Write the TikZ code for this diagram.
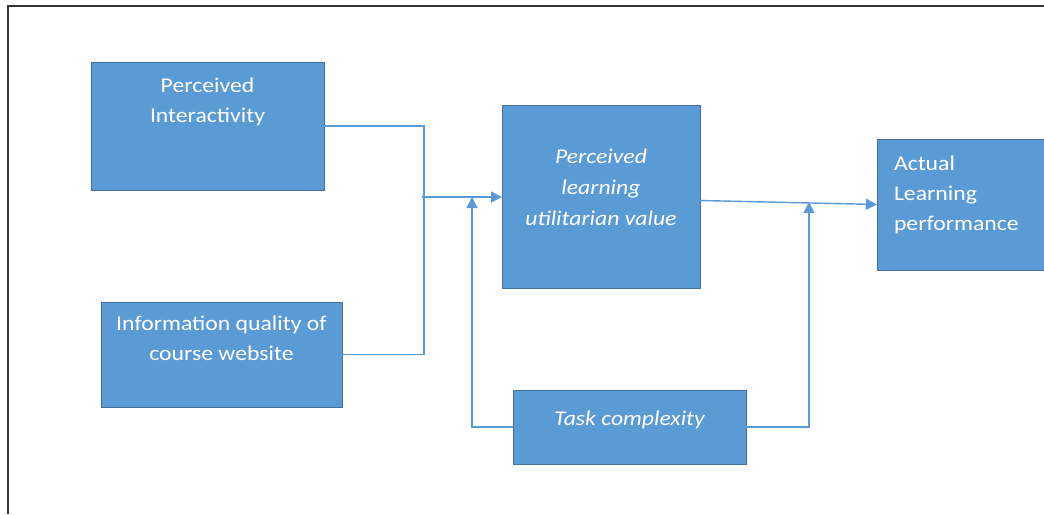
\documentclass[tikz,border=0pt]{standalone}
\usepackage{fontspec}
\setmainfont{Carlito}[FakeStretch=1.13]
\usetikzlibrary{arrows.meta}
\definecolor{boxfill}{HTML}{5B9BD5}
\definecolor{boxline}{HTML}{41719C}
\definecolor{conn}{HTML}{5B9BD5}
\definecolor{framec}{HTML}{333333}
\newcommand{\cbox}[4]{\parbox[t][#2][t]{#1}{\centering\rule{0pt}{#3}#4}}
\newcommand{\lbox}[5]{\parbox[t][#2][t]{#1}{\raggedright\leftskip=#4\rule{0pt}{#3}#5}}
\tikzset{
  blockbox/.style={draw=boxline, line width=1pt, fill=boxfill, inner sep=0pt, outer sep=0pt,
    anchor=north west, text=white, font=\fontsize{21}{30}\selectfont},
  link/.style={draw=conn, line width=1.4pt},
  arr/.style={link, -{Triangle[length=11pt,width=11pt]}},
  framel/.style={draw=framec, line width=2pt},
}
\begin{document}
\begin{tikzpicture}[x=1pt,y=-1pt]
\clip (0,0) rectangle (1044,514);
\fill[white] (0,0) rectangle (1044,514);
% frame
\draw[framel] (7.5,514) -- (7.5,6) -- (1044,6);
% boxes
\node[blockbox] (PI) at (91,62) {\cbox{233pt}{128pt}{30pt}{Perceived\\Interactivity}};
\node[blockbox] (IQ) at (101,302) {\cbox{241pt}{105pt}{28pt}{Information quality of\\course website}};
\node[blockbox] (PL) at (502,105) {\cbox{198pt}{183pt}{58pt}{\itshape\setlength{\baselineskip}{31pt}Perceived\\learning\\utilitarian value}};
\node[blockbox] (TC) at (513,390) {\cbox{233pt}{74pt}{35pt}{\itshape Task complexity}};
\node[blockbox] (AL) at (877,139) {\lbox{190pt}{131pt}{31pt}{17pt}{Actual\\Learning\\performance}};
% connectors
\coordinate (j1) at (424,126);
\coordinate (j3) at (422,197);
\coordinate (t1) at (472,197);
\coordinate (t2) at (809,202);
\draw[link] (PI.east) -- (j1) -- (j1 |- IQ.east) -- (IQ.east);
\draw[arr] (j3) -- (j3 -| PL.west);
\draw[arr] (TC.west) -- (TC.west -| t1) -- (t1);
\draw[arr] ([yshift=-4pt]PL.east) -- (AL.west);
\draw[arr] (TC.east) -- (TC.east -| t2) -- (t2);
\end{tikzpicture}
\end{document}
